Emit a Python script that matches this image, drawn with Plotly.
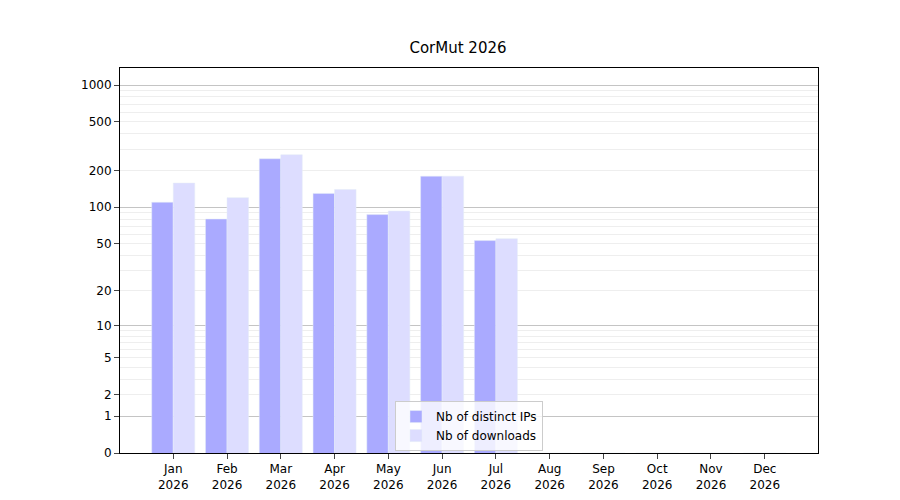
import plotly.graph_objects as go

months = ["Jan", "Feb", "Mar", "Apr", "May", "Jun", "Jul", "Aug", "Sep", "Oct", "Nov", "Dec"]
year = "2026"
distinct_ips = [110, 80, 250, 130, 87, 180, 53, 0, 0, 0, 0, 0]
downloads = [158, 120, 270, 140, 93, 180, 55, 0, 0, 0, 0, 0]
y_labels = [0, 1, 2, 5, 10, 20, 50, 100, 200, 500, 1000]

# axis is log10(v + 1)
x = list(range(len(months)))
fig = go.Figure()
fig.add_trace(go.Bar(x=x, y=[v + 1 for v in distinct_ips], name="Nb of distinct IPs",
                     marker_color="#aaaaff"))
fig.add_trace(go.Bar(x=x, y=[v + 1 for v in downloads], name="Nb of downloads",
                     marker_color="#ddddff"))

major = [1, 10, 100, 1000]
minor = [m * 10 ** e for e in range(0, 3) for m in range(2, 10)]
font = dict(family="DejaVu Sans", size=12, color="black")
yr = [0, 3.14]

fig.update_layout(
    width=900, height=500,
    paper_bgcolor="white", plot_bgcolor="white",
    margin=dict(l=112, r=90, t=60, b=55, autoexpand=False),
    title=dict(text="CorMut 2026", x=0.5, xanchor="center", y=0.91, yanchor="bottom",
               font=dict(family="DejaVu Sans", size=15)),
    font=font,
    barmode="group", bargap=0.2, bargroupgap=0,
    legend=dict(x=0.5, xanchor="center", y=0.005, yanchor="bottom", bordercolor="#cccccc", borderwidth=1,
                bgcolor="rgba(255,255,255,0.8)", font=font, tracegroupgap=0, itemwidth=30),
    xaxis=dict(range=[-0.99, 11.99], tickvals=x, ticktext=[f"{m}<br>{year}" for m in months],
               showline=True, linecolor="black", mirror=True, ticks="outside", showgrid=False,
               zeroline=False, automargin=False),
    yaxis=dict(type="log", range=yr, tickvals=[v + 1 for v in y_labels],
               ticktext=[str(v) for v in y_labels], showline=True, linecolor="black", mirror=True,
               ticks="outside", showgrid=True, gridcolor="#eeeeee",
               minor=dict(tickvals=[v + 1 for v in minor], showgrid=True, gridcolor="#eeeeee", ticks=""),
               zeroline=False, automargin=False),
    yaxis2=dict(type="log", range=yr, overlaying="y", tickvals=[v + 1 for v in major],
                showticklabels=False, ticks="", showgrid=True, gridcolor="#c4c4c4",
                zeroline=False, automargin=False, layer="below traces"),
)
# invisible trace so yaxis2 is drawn
fig.add_trace(go.Scatter(x=[x[0]], y=[1], yaxis="y2", mode="markers", marker_opacity=0,
                         showlegend=False, hoverinfo="skip"))
fig.write_html("out.html")
